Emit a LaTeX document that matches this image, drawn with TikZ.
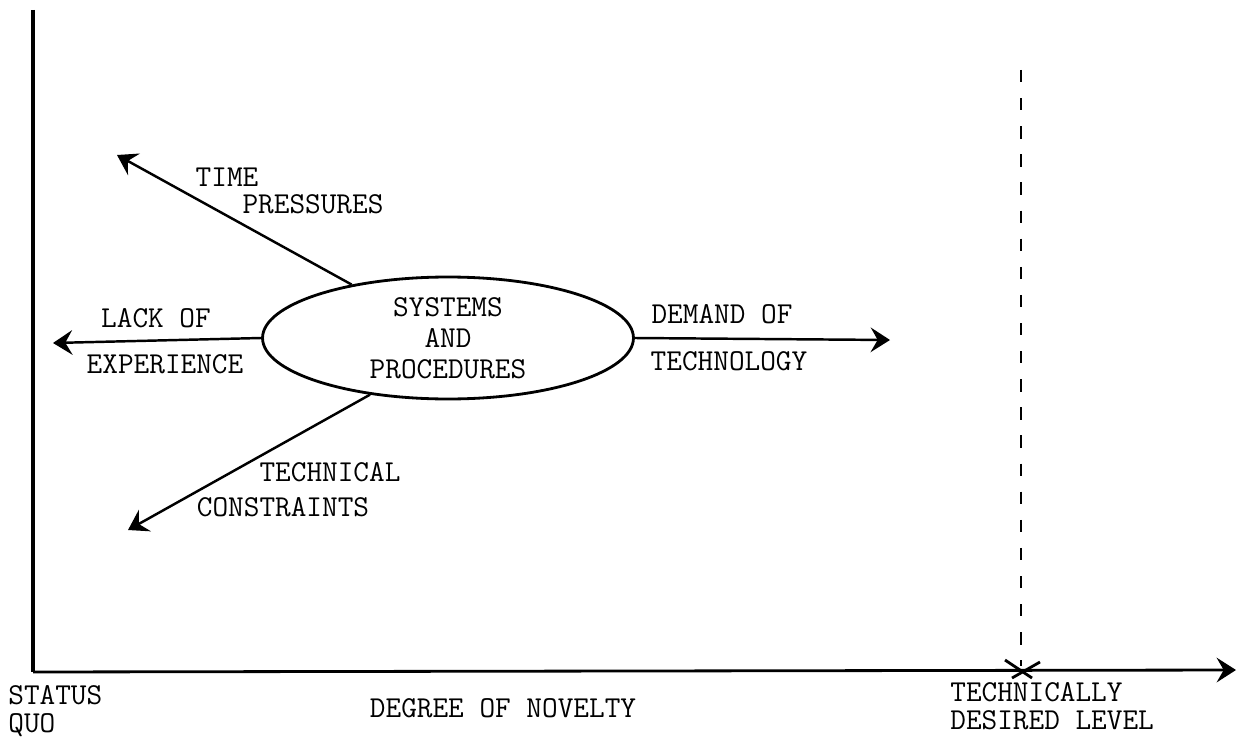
\documentclass[tikz,border=0pt]{standalone}
\usepackage{fontspec}
\newfontfamily\typefont{Latin Modern Mono}
\usetikzlibrary{arrows.meta,shapes.geometric}
\tikzset{
  lbl/.style={font=\typefont\fontsize{17.3}{17.6}\selectfont, inner sep=0pt, anchor=base},
  arr/.style={line width=1.4pt, -{Stealth[length=11pt,width=14pt,inset=4pt]}},
}
\begin{document}
\begin{tikzpicture}[x=0.02cm,y=-0.02cm]
\useasboundingbox (0,0) rectangle (1241,740);
% axes
\coordinate (o) at (33,672);
\coordinate (ytop) at (33,10);
\coordinate (xend) at (1236,670);
\draw[line width=1.8pt] (ytop) -- (o);
\draw[arr, line width=1.6pt] (o) -- (xend);
\node[lbl, anchor=base west] (status) at (8,704) {STATUS};
\node[lbl, anchor=base west] (quo) at (8,732) {QUO};
\node[lbl] (novelty) at (503,717) {DEGREE OF NOVELTY};
% desired level
\coordinate (dtop) at (1021,70);
\coordinate (dbot) at (1021,666);
\draw[line width=1.6pt, dash pattern=on 7pt off 9pt] (dtop) -- (dbot);
\draw[line width=1.6pt] (1005,660) -- (1032,678) (1040,662) -- (1012,678);
\node[lbl, anchor=base west] (techly) at (950,701) {TECHNICALLY};
\node[lbl, anchor=base west] (desired) at (950,729) {DESIRED LEVEL};
% forces
\node[lbl, anchor=center, ellipse, draw, line width=1.6pt, align=center,
      minimum width=7.42cm, minimum height=2.44cm] (sys) at (448,338)
      {SYSTEMS\\AND\\PROCEDURES};
\coordinate (tp) at (117,155);
\coordinate (lx) at (53,343);
\coordinate (tc) at (128,530);
\coordinate (dt) at (890,340);
\draw[arr] (sys.151) -- (tp);
\draw[arr] (sys.west) -- (lx);
\draw[arr] (sys.216) -- (tc);
\draw[arr] (sys.east) -- (dt);
\node[lbl] (time) at (227,186) {TIME};
\node[lbl] (press) at (313,214) {PRESSURES};
\node[lbl] (lack) at (156,327) {LACK OF};
\node[lbl] (exper) at (165,373) {EXPERIENCE};
\node[lbl] (techn) at (330,481) {TECHNICAL};
\node[lbl] (constr) at (283,516) {CONSTRAINTS};
\node[lbl] (demand) at (722,323) {DEMAND OF};
\node[lbl] (techno) at (729,370) {TECHNOLOGY};
\end{tikzpicture}
\end{document}
